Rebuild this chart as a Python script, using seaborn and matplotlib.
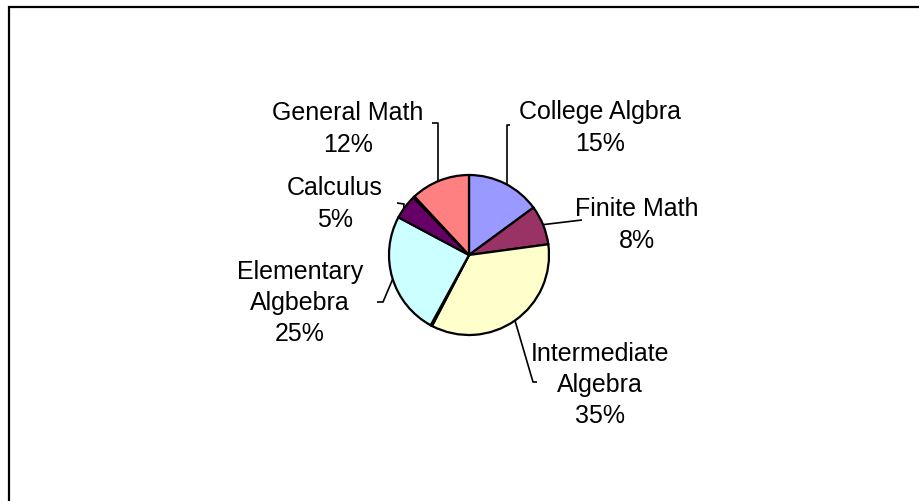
import matplotlib
matplotlib.use("Agg")
import matplotlib.pyplot as plt
from matplotlib.patches import Rectangle
import numpy as np
import seaborn as sns

# Course enrollment shares, clockwise from 12 o'clock
courses = ["College Algbra", "Finite Math", "Intermediate\nAlgebra", "",
           "Elementary\nAlgbebra", "Calculus", "", "General Math"]
shares = [15, 8, 35, 0.3, 25, 5, 0.3, 12]
pct_labels = ["15%", "8%", "35%", "", "25%", "5%", "", "12%"]
colors = ["#9999FF", "#993366", "#FFFFCC", "#A0A0A0",
          "#CCFFFF", "#660066", "#A0A0A0", "#FF8080"]

sns.set_theme(style="white")
plt.rcParams["font.family"] = ["Liberation Sans", "DejaVu Sans"]

W, H = 920, 501
fig = plt.figure(figsize=(W / 100, H / 100), dpi=100)
ax = fig.add_axes([0, 0, 1, 1])

# pie geometry in pixels
CX, CY, R = 469, 255, 80

wedges, _ = ax.pie(shares, colors=colors, startangle=90, counterclock=False,
                   radius=1.0,
                   wedgeprops=dict(edgecolor="black", linewidth=1.6))

ax.set_xlim(-CX / R, (W - CX) / R)
ax.set_ylim(-(H - CY) / R, CY / R)
ax.set_aspect("equal", adjustable="datalim")
ax.axis("off")


def to_data(px, py):
    return (px - CX) / R, (CY - py) / R


def edge_point(wedge, frac=0.5):
    # frac runs from the wedge's theta1 to theta2
    a = np.deg2rad(wedge.theta1 + (wedge.theta2 - wedge.theta1) * frac)
    return np.cos(a), np.sin(a)


# label text centre (pixels), leader path (pixels, from label side), wedge fraction for rim point
label_layout = {
    0: dict(text=(600, 128), path=[(510, 125), (507, 125), (507, None)], frac=None),
    1: dict(text=(637, 225), path=[(582, 220)], frac=0.51),
    2: dict(text=(600, 385), path=[(537, 382), (533, 382)], frac=0.5),
    4: dict(text=(300, 303), path=[(377, 302), (383, 302)], frac=0.51),
    5: dict(text=(335, 204), path=[(397, 203), (404, 204)], frac=0.6),
    7: dict(text=(348, 129), path=[(432, 123), (438, 123), (438, None)], frac=None),
}

for i, spec in label_layout.items():
    tx, ty = to_data(*spec["text"])
    ax.text(tx, ty, f"{courses[i]}\n{pct_labels[i]}", ha="center", va="center",
            fontsize=18, color="black", linespacing=1.38)
    pts = []
    for (px, py) in spec["path"]:
        if py is None:
            # vertical drop onto the pie rim
            x = (px - CX) / R
            pts.append((x, np.sqrt(max(1 - x * x, 0))))
        else:
            pts.append(to_data(px, py))
    if spec["frac"] is not None:
        pts.append(edge_point(wedges[i], spec["frac"]))
    xs, ys = zip(*pts)
    ax.plot(xs, ys, color="black", linewidth=1.2, solid_capstyle="butt")

# chart-area frame (runs off the right and bottom edges)
fig.patches.append(Rectangle((9 / W, -0.05), 1.1, 1 - 7 / H + 0.05,
                             transform=fig.transFigure, fill=False,
                             edgecolor="black", linewidth=1.6))

fig.savefig("out.png", dpi=100, facecolor="white")
